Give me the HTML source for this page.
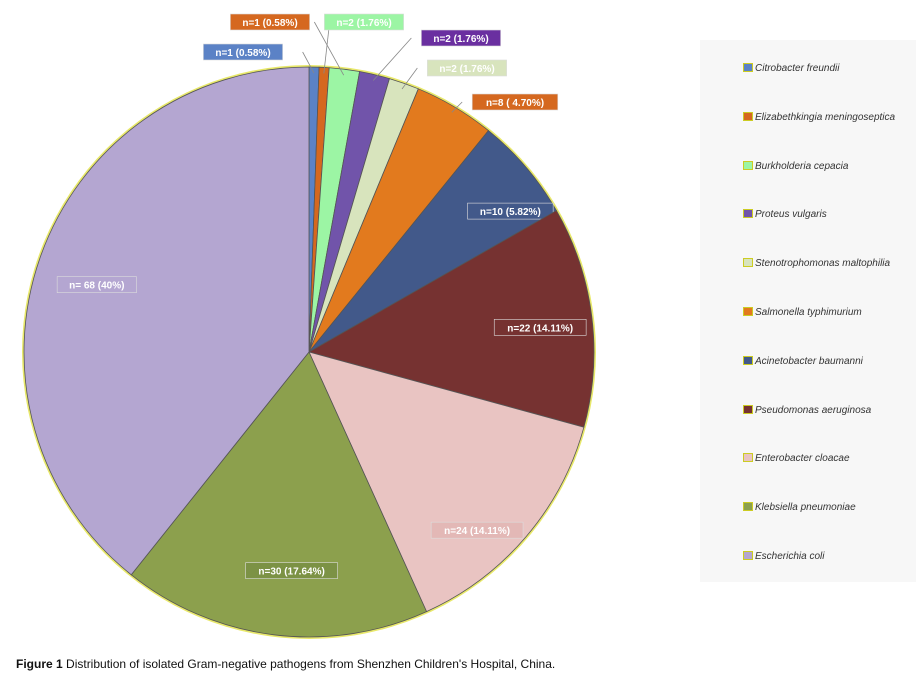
<!DOCTYPE html>
<html><head><meta charset="utf-8"><style>
body{margin:0;background:#fff;width:916px;height:683px;overflow:hidden;font-family:"Liberation Sans",sans-serif}
#legend{position:absolute;left:700px;top:40px;width:216px;height:542px;background:#f7f7f7}
.li{position:absolute;left:43px;font-size:10px;font-style:italic;color:#333;white-space:nowrap}
.li i{display:inline-block;width:8px;height:7px;margin-right:2px;vertical-align:-1px;border:1px solid #cc2}
#cap{position:absolute;left:16px;top:657px;font-size:12px;color:#111}
</style></head><body>
<svg id="chart" width="700" height="650" style="position:absolute;left:0;top:0"></svg>
<div id="legend"></div>
<div id="cap"><b>Figure 1</b> Distribution of isolated Gram-negative pathogens from Shenzhen Children's Hospital, China.</div>
<script>
const categories=["Citrobacter freundii","Elizabethkingia meningoseptica","Burkholderia cepacia","Proteus vulgaris","Stenotrophomonas maltophilia","Salmonella typhimurium","Acinetobacter baumanni","Pseudomonas aeruginosa","Enterobacter cloacae","Klebsiella pneumoniae","Escherichia coli"];
const counts=[1,1,2,2,2,8,10,22,24,30,68];
// slice shares as drawn in the figure
const shares=[0.58,0.58,1.76,1.76,1.76,4.70,6.06,12.86,14.37,17.97,40.37];
const labels=["n=1 (0.58%)","n=1 (0.58%)","n=2 (1.76%)","n=2 (1.76%)","n=2 (1.76%)","n=8 ( 4.70%)","n=10 (5.82%)","n=22 (14.11%)","n=24 (14.11%)","n=30 (17.64%)","n= 68 (40%)"];
const colors=["#5b82c6","#d5681f","#9cf5a4","#7154aa","#d8e4bd","#e27a1e","#42598a","#763231","#e9c4c2","#8ca04d","#b4a6d1"];
const labelBg=["#5b82c6","#d5681f","#9cf5a4","#6a2fa0","#d8e4bd","#d5681f","#42598a","#763231","#e3b8b6","#7c9245","#b4a6d1"];
const outside=[[243,52],[270,22],[364,22],[461,38],[467,68],[515,102]];
const labelNudge={6:[45,-8],7:[5,4],8:[12,45],9:[8,15],10:[3,8]};
const NS="http://www.w3.org/2000/svg",svg=document.getElementById('chart');
const cx=309,cy=352,r=285;
const total=shares.reduce((a,b)=>a+b,0);
function pt(a,rr){return [cx+rr*Math.sin(a),cy-rr*Math.cos(a)];}
function mk(t,at){const e=document.createElementNS(NS,t);for(const k in at)e.setAttribute(k,at[k]);svg.appendChild(e);return e;}
const circ=mk('circle',{cx:cx,cy:cy,r:r+2,fill:'#e8e86a'});


let a0=0;
shares.forEach((v,i)=>{
  const a1=a0+v/total*2*Math.PI;
  const p0=pt(a0,r),p1=pt(a1,r);
  const large=(a1-a0)>Math.PI?1:0;
  const s=mk('path',{d:`M${cx},${cy}L${p0[0]},${p0[1]}A${r},${r} 0 ${large} 1 ${p1[0]},${p1[1]}Z`,fill:colors[i],stroke:'#555',"stroke-width":0.8});
  
  
  const am=(a0+a1)/2;
  const w=labels[i].length*6.3+10;
  let lx,ly;
  if(i<outside.length){
    [lx,ly]=outside[i];
    const pe=pt(am,r-6);
    const ln=mk('polyline',{points:`${pe[0]},${pe[1]} ${lx+(lx<cx?w/2+20:-w/2-10)},${ly} `,fill:'none',stroke:'#888',"stroke-width":0.8});
    
    
  } else {
    const rf=i===10?0.8:(i===7?0.8:0.72);
    [lx,ly]=pt(am,r*rf);
    const n=labelNudge[i]||[0,0];
    lx+=n[0];ly+=n[1];
  }
  const b=mk('rect',{x:lx-w/2,y:ly-8,width:w,height:16,fill:labelBg[i],stroke:'#ddd',"stroke-width":0.6});
  
  
  const t=mk('text',{x:lx,y:ly+4,"text-anchor":'middle',"font-size":10,"font-weight":'bold',fill:'#fff',"font-family":'Liberation Sans, sans-serif'});
  t.textContent=labels[i];
  
  
  a0=a1;
});
const lg=document.getElementById('legend');
categories.forEach((c,i)=>{
  const d=document.createElement('div');
  d.className='li';
  d.style.top=(23+i*48.8)+'px';
  d.innerHTML='<i style="background:'+colors[i]+'"></i>'+c;
  
  
  lg.appendChild(d);
});
</script>
</body></html>
